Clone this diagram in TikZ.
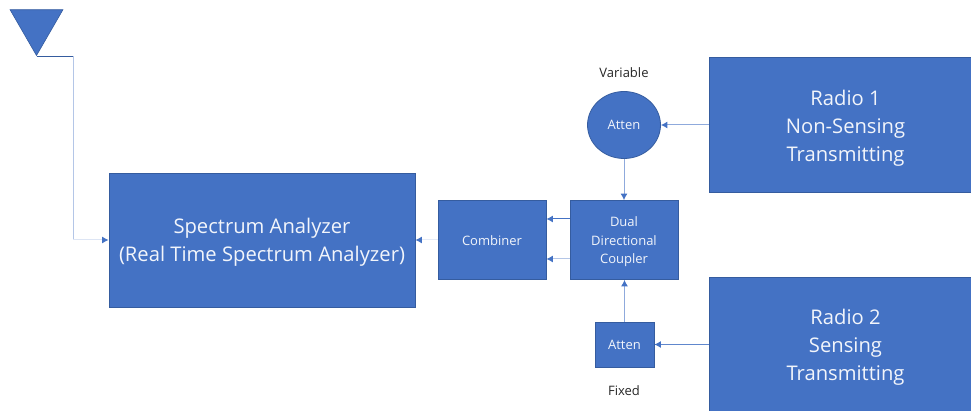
\documentclass[tikz,border=0pt]{standalone}
\usepackage{fontspec}
\setmainfont{Open Sans}
\definecolor{fillblue}{HTML}{4472C4}
\definecolor{edgeblue}{HTML}{2F528F}
\definecolor{lineblue}{HTML}{4472C4}
\definecolor{softline}{HTML}{B4C6E7}
\definecolor{midline}{HTML}{8FAADC}
\definecolor{labelwhite}{HTML}{F2F5FB}
\definecolor{labelink}{HTML}{262626}
\newcommand{\toproom}[1]{\rule{0pt}{#1}}
\tikzset{
  x=1pt,y=-1pt,
  shapebox/.style={rectangle,draw=edgeblue!70!fillblue,line width=0.8pt,fill=fillblue,text=labelwhite,align=center,inner sep=0pt},
  conn/.style={line width=1pt,draw=#1,-{Latex[length=6.5pt,width=7pt,color=lineblue]}},
  conn/.default=midline,
  bigtext/.style={font=\fontsize{20.2}{28}\selectfont},
  midtext/.style={font=\fontsize{13}{18.5}\selectfont},
  smalltext/.style={font=\fontsize{13}{14}\selectfont},
  caption/.style={text=labelink,font=\fontsize{13}{14}\selectfont,inner sep=0pt},
}
\usetikzlibrary{arrows.meta,shapes.geometric}
\begin{document}
\begin{tikzpicture}
\useasboundingbox (0,0) rectangle (971,411);
\node[shapebox,bigtext,minimum width=306pt,minimum height=134pt] (analyzer) at (262,240) {\toproom{19.5pt}Spectrum Analyzer\\(Real Time Spectrum Analyzer)};
\node[shapebox,midtext,minimum width=108pt,minimum height=79pt] (combiner) at (492,240) {\toproom{12pt}Combiner};
\node[shapebox,midtext,minimum width=108pt,minimum height=79pt] (coupler) at (624,240) {\toproom{14pt}Dual\\Directional\\Coupler};
\node[shapebox,smalltext,minimum width=59pt,minimum height=45pt] (fixed) at (624.5,344.5) {Atten};
\node[shapebox,smalltext,ellipse,minimum width=73pt,minimum height=67pt] (variable) at (624,125) {Atten};
\node[shapebox,bigtext,minimum width=264pt,minimum height=135pt] (radioa) at (841,124.5) {};
\node[bigtext,text=labelwhite,align=center,inner sep=0pt] (radioatext) at (845.5,128) {Radio 1\\Non-Sensing\\Transmitting};
\node[shapebox,bigtext,minimum width=264pt,minimum height=136pt] (radiob) at (841,345) {};
\node[bigtext,text=labelwhite,align=center,inner sep=0pt] (radiobtext) at (845.5,347.5) {Radio 2\\Sensing\\Transmitting};
\node[caption] (varlabel) at (624,73) {Variable};
\node[caption] (fixlabel) at (624,391) {Fixed};
\node[draw=edgeblue!70!fillblue,line width=0.6pt,fill=fillblue,regular polygon,regular polygon sides=3,shape border rotate=180,inner sep=0pt,minimum size=61pt] (antenna) at (36.5,25) {};
\coordinate (feedbottom) at (73,240);
\coordinate (feedtop) at (antenna.corner 1 -| feedbottom);
\draw[line width=0.8pt,edgeblue!70!fillblue] (antenna.corner 1) -- (feedtop);
\draw[line width=1pt,softline] (feedtop) -- (feedbottom);
\draw[conn=softline!45!white] (feedbottom) -- (analyzer.west);
\draw[conn=softline!35!white] (combiner.west) -- (analyzer.east);
\draw[conn=lineblue] ([yshift=21pt]coupler.west) -- ([yshift=21pt]combiner.east);
\draw[conn=softline] ([yshift=-19pt]coupler.west) -- ([yshift=-19pt]combiner.east);
\draw[conn] (variable.south) -- (coupler.north);
\draw[conn] (fixed.north) -- (coupler.south -| fixed.north);
\draw[conn] (radioa.west |- variable.east) -- (variable.east);
\draw[conn=lineblue!85!white] (radiob.west |- fixed.east) -- (fixed.east);
\end{tikzpicture}
\end{document}
